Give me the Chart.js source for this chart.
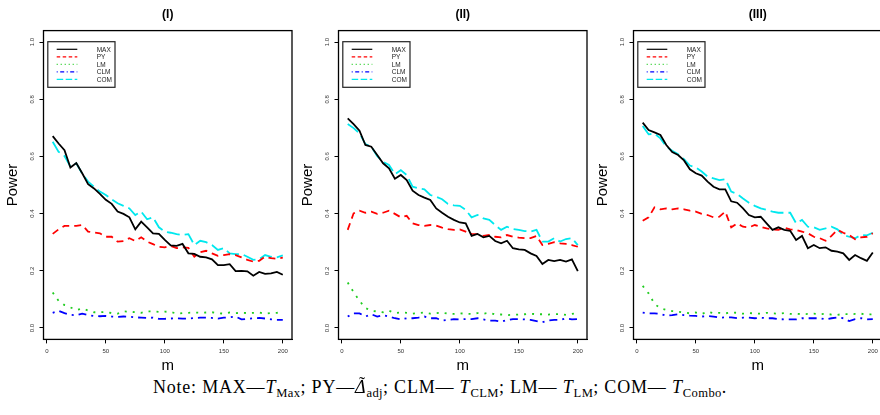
<!DOCTYPE html>
<html>
<head>
<meta charset="utf-8">
<script src="https://cdn.jsdelivr.net/npm/chart.js@4.4.0/dist/chart.umd.min.js"></script>
<style>
  html, body { margin: 0; padding: 0; background: #fff; }
  body { position: relative; width: 880px; height: 415px; overflow: hidden; }
  .panel { position: absolute; top: 0; width: 294px; height: 375px; }
  .note {
    position: absolute; left: 0; top: 377px; width: 880px; text-align: center; white-space: nowrap;
    font-family: "Liberation Serif", "DejaVu Serif", serif; font-size: 18px; letter-spacing: 0.8px; color: #000;
  }
  .note sub { font-size: 70%; vertical-align: -0.3em; line-height: 0; letter-spacing: 0.4px; }
  .dt { position: relative; display: inline-block; }
  .dt .tl { position: absolute; left: 0.22em; top: -0.18em; font-style: normal; }
</style>
</head>
<body>
<div class="panel" style="left:0px"><canvas id="c1" width="294" height="375"></canvas></div>
<div class="panel" style="left:295px"><canvas id="c2" width="294" height="375"></canvas></div>
<div class="panel" style="left:590px"><canvas id="c3" width="294" height="375"></canvas></div>
<div class="note">Note: MAX—<i>T</i><sub>Max</sub>; PY—<span class="dt"><i>Δ</i><span class="tl">˜</span></span><sub>adj</sub>; CLM— <i>T</i><sub>CLM</sub>; LM— <i>T</i><sub>LM</sub>; COM— <i>T</i><sub>Combo</sub>.</div>

<script>
// m values (x axis)
const M = [5, 10, 15, 20, 25, 30, 35, 40, 45, 50, 55, 60, 65, 70, 75, 80, 85, 90, 95, 100,
           105, 110, 115, 120, 125, 130, 135, 140, 145, 150, 155, 160, 165, 170, 175, 180, 185, 190, 195, 200]

const X_TICKS = [0, 50, 100, 150, 200]
const Y_TICKS = [0, 0.2, 0.4, 0.6, 0.8, 1.0]
const Y_LABELS = ['0.0', '0.2', '0.4', '0.6', '0.8', '1.0']

// ---- panel (I) ----
const MAX_1 = [0.671, 0.645, 0.622, 0.561, 0.577, 0.541, 0.503, 0.488, 0.469, 0.448, 0.434, 0.407, 0.399, 0.387, 0.345, 0.372, 0.352, 0.331, 0.329, 0.308,
               0.289, 0.287, 0.294, 0.261, 0.259, 0.249, 0.247, 0.240, 0.220, 0.220, 0.223, 0.199, 0.200, 0.198, 0.183, 0.196, 0.189, 0.191, 0.196, 0.186]
const PY_1  = [0.329, 0.345, 0.357, 0.357, 0.357, 0.360, 0.337, 0.334, 0.331, 0.319, 0.319, 0.302, 0.304, 0.314, 0.304, 0.317, 0.302, 0.293, 0.284, 0.282,
               0.287, 0.279, 0.282, 0.280, 0.249, 0.265, 0.270, 0.261, 0.252, 0.255, 0.258, 0.255, 0.247, 0.238, 0.232, 0.235, 0.249, 0.244, 0.242, 0.246]
const LM_1  = [0.124, 0.095, 0.080, 0.072, 0.063, 0.068, 0.061, 0.055, 0.055, 0.056, 0.052, 0.050, 0.058, 0.057, 0.055, 0.053, 0.058, 0.058, 0.056, 0.057,
               0.056, 0.050, 0.052, 0.053, 0.054, 0.053, 0.054, 0.055, 0.052, 0.050, 0.054, 0.052, 0.053, 0.052, 0.053, 0.054, 0.050, 0.052, 0.053, 0.054]
const CLM_1 = [0.053, 0.060, 0.052, 0.046, 0.044, 0.050, 0.045, 0.042, 0.041, 0.042, 0.040, 0.039, 0.040, 0.039, 0.037, 0.036, 0.035, 0.036, 0.032, 0.032,
               0.033, 0.034, 0.033, 0.033, 0.035, 0.036, 0.036, 0.035, 0.033, 0.036, 0.037, 0.040, 0.030, 0.032, 0.034, 0.035, 0.033, 0.030, 0.028, 0.028]
const COM_1 = [0.651, 0.616, 0.601, 0.564, 0.576, 0.540, 0.512, 0.494, 0.477, 0.465, 0.450, 0.436, 0.427, 0.418, 0.395, 0.407, 0.380, 0.387, 0.352, 0.337,
               0.333, 0.328, 0.325, 0.328, 0.290, 0.305, 0.300, 0.290, 0.273, 0.279, 0.261, 0.258, 0.259, 0.249, 0.238, 0.240, 0.255, 0.249, 0.247, 0.254]

// ---- panel (II) ----
const MAX_2 = [0.733, 0.713, 0.690, 0.640, 0.634, 0.605, 0.576, 0.558, 0.522, 0.535, 0.517, 0.480, 0.465, 0.456, 0.448, 0.418, 0.403, 0.389, 0.378, 0.369,
               0.366, 0.322, 0.329, 0.317, 0.322, 0.304, 0.296, 0.305, 0.279, 0.275, 0.273, 0.261, 0.252, 0.224, 0.238, 0.234, 0.238, 0.232, 0.240, 0.199]
const PY_2  = [0.343, 0.401, 0.410, 0.403, 0.407, 0.399, 0.403, 0.410, 0.399, 0.387, 0.392, 0.366, 0.360, 0.357, 0.360, 0.358, 0.351, 0.346, 0.343, 0.345,
               0.337, 0.329, 0.328, 0.322, 0.325, 0.319, 0.317, 0.325, 0.319, 0.316, 0.314, 0.314, 0.322, 0.290, 0.294, 0.300, 0.296, 0.294, 0.290, 0.284]
const LM_2  = [0.159, 0.125, 0.095, 0.070, 0.060, 0.058, 0.055, 0.060, 0.052, 0.054, 0.053, 0.050, 0.052, 0.054, 0.050, 0.052, 0.054, 0.050, 0.049, 0.051,
               0.050, 0.049, 0.052, 0.050, 0.053, 0.047, 0.047, 0.045, 0.046, 0.047, 0.048, 0.050, 0.048, 0.048, 0.047, 0.048, 0.049, 0.046, 0.049, 0.052]
const CLM_2 = [0.040, 0.051, 0.051, 0.040, 0.048, 0.040, 0.045, 0.040, 0.034, 0.030, 0.034, 0.034, 0.036, 0.040, 0.034, 0.034, 0.026, 0.028, 0.031, 0.030,
               0.031, 0.031, 0.034, 0.030, 0.026, 0.026, 0.022, 0.028, 0.031, 0.031, 0.030, 0.028, 0.024, 0.020, 0.026, 0.028, 0.028, 0.034, 0.030, 0.031]
const COM_2 = [0.713, 0.699, 0.681, 0.643, 0.634, 0.601, 0.581, 0.570, 0.538, 0.552, 0.535, 0.494, 0.488, 0.485, 0.465, 0.459, 0.450, 0.434, 0.429, 0.427,
               0.413, 0.387, 0.395, 0.383, 0.378, 0.360, 0.343, 0.354, 0.346, 0.343, 0.339, 0.337, 0.343, 0.302, 0.302, 0.314, 0.302, 0.311, 0.314, 0.290]

// ---- panel (III) ----
const MAX_3 = [0.718, 0.692, 0.684, 0.675, 0.640, 0.615, 0.605, 0.586, 0.555, 0.541, 0.533, 0.512, 0.494, 0.485, 0.485, 0.443, 0.438, 0.418, 0.395, 0.387,
               0.389, 0.366, 0.343, 0.352, 0.343, 0.340, 0.308, 0.322, 0.279, 0.290, 0.279, 0.282, 0.270, 0.267, 0.261, 0.238, 0.255, 0.244, 0.235, 0.264]
const PY_3  = [0.375, 0.387, 0.422, 0.415, 0.418, 0.415, 0.418, 0.415, 0.410, 0.407, 0.399, 0.395, 0.387, 0.389, 0.407, 0.352, 0.366, 0.354, 0.352, 0.360,
               0.354, 0.348, 0.345, 0.343, 0.351, 0.345, 0.343, 0.337, 0.331, 0.319, 0.314, 0.305, 0.322, 0.343, 0.333, 0.325, 0.310, 0.317, 0.319, 0.331]
const LM_3  = [0.147, 0.121, 0.084, 0.069, 0.063, 0.059, 0.057, 0.054, 0.051, 0.054, 0.049, 0.057, 0.052, 0.053, 0.051, 0.054, 0.053, 0.050, 0.052, 0.051,
               0.050, 0.053, 0.051, 0.050, 0.052, 0.049, 0.050, 0.048, 0.049, 0.050, 0.048, 0.050, 0.047, 0.046, 0.049, 0.048, 0.049, 0.050, 0.047, 0.048]
const CLM_3 = [0.054, 0.051, 0.051, 0.049, 0.043, 0.045, 0.048, 0.045, 0.043, 0.042, 0.040, 0.042, 0.040, 0.036, 0.037, 0.037, 0.034, 0.036, 0.036, 0.034,
               0.036, 0.034, 0.034, 0.031, 0.030, 0.030, 0.030, 0.034, 0.034, 0.034, 0.034, 0.030, 0.034, 0.037, 0.034, 0.024, 0.031, 0.034, 0.030, 0.031]
const COM_3 = [0.706, 0.677, 0.680, 0.663, 0.634, 0.620, 0.608, 0.590, 0.568, 0.562, 0.547, 0.529, 0.523, 0.517, 0.520, 0.477, 0.469, 0.453, 0.438, 0.427,
               0.418, 0.413, 0.407, 0.403, 0.403, 0.403, 0.366, 0.378, 0.354, 0.352, 0.343, 0.348, 0.354, 0.345, 0.325, 0.319, 0.314, 0.325, 0.324, 0.333]

// line styles, R-like lty 1..5
const STYLES = [
  { label: 'MAX', color: '#000000', dash: [] },
  { label: 'PY',  color: '#ff0000', dash: [7, 5] },
  { label: 'LM',  color: '#1fcc1f', dash: [2, 6] },
  { label: 'CLM', color: '#0000ff', dash: [2, 5, 8, 5] },
  { label: 'COM', color: '#00e8ee', dash: [13, 5] }
]

const SANS = '"Liberation Sans", Arial, Helvetica, sans-serif'

// box, rotated y tick labels, panel title and the in-plot legend
const decor = {
  id: 'decor',
  afterDraw(chart, args, opts) {
    const { ctx, chartArea: a } = chart
    const y = chart.scales.y
    ctx.save()

    ctx.strokeStyle = '#000'
    ctx.lineWidth = 1.3
    ctx.setLineDash([])
    ctx.strokeRect(a.left, a.top, a.right - a.left, a.bottom - a.top)

    ctx.fillStyle = '#333'
    ctx.font = '6px ' + SANS
    ctx.textAlign = 'center'
    ctx.textBaseline = 'middle'
    Y_TICKS.forEach((v, i) => {
      ctx.save()
      ctx.translate(a.left - 11.5, y.getPixelForValue(v))
      ctx.rotate(-Math.PI / 2)
      ctx.fillText(Y_LABELS[i], 0, 0)
      ctx.restore()
    })

    ctx.fillStyle = '#000'
    ctx.font = 'bold 12px ' + SANS
    ctx.fillText(opts.title, (a.left + a.right) / 2, 14.5)

    // legend
    const lx = a.left + 4.3, ly = a.top + 11.1
    ctx.fillStyle = '#fff'
    ctx.fillRect(lx, ly, 67.2, 45.6)
    ctx.strokeStyle = '#222'
    ctx.lineWidth = 1.2
    ctx.strokeRect(lx, ly, 67.2, 45.6)
    ctx.font = '6.5px ' + SANS
    ctx.textAlign = 'left'
    STYLES.forEach((s, i) => {
      const ty = a.top + 18.7 + i * 7.5
      ctx.strokeStyle = s.color
      ctx.lineWidth = 1.2
      ctx.setLineDash(s.dash.map(d => d / 2))
      ctx.beginPath()
      ctx.moveTo(a.left + 13.2, ty)
      ctx.lineTo(a.left + 33.8, ty)
      ctx.stroke()
      ctx.fillStyle = '#222'
      ctx.fillText(s.label, a.left + 53.2, ty + 0.5)
    })
    ctx.restore()
  }
}

function makePanel(id, title, series) {
  new Chart(document.getElementById(id), {
    type: 'line',
    data: {
      datasets: series.map((vals, i) => ({
        label: STYLES[i].label,
        data: M.map((m, j) => ({ x: m, y: vals[j] })),
        borderColor: STYLES[i].color,
        borderDash: STYLES[i].dash,
        borderWidth: 1.8,
        pointRadius: 0,
        tension: 0,
        fill: false
      }))
    },
    options: {
      responsive: false,
      animation: false,
      layout: { padding: { left: 0, right: 2, top: 30.6, bottom: 0 } },
      plugins: {
        legend: { display: false },
        tooltip: { enabled: false },
        decor: { title }
      },
      scales: {
        x: {
          type: 'linear', min: -2.8, max: 207.8,
          afterBuildTicks: s => { s.ticks = X_TICKS.map(v => ({ value: v })) },
          afterFit: s => { s.height = 35.6 },
          grid: { drawOnChartArea: false, drawTicks: true, tickLength: 4, color: '#000' },
          border: { display: true, color: '#000', width: 1 },
          ticks: { color: '#333', font: { size: 6, family: SANS }, padding: 4, maxRotation: 0 },
          title: { display: true, text: 'm', color: '#000', font: { size: 15, family: SANS }, padding: 0 }
        },
        y: {
          type: 'linear', min: -0.04, max: 1.04,
          afterBuildTicks: s => { s.ticks = Y_TICKS.map(v => ({ value: v })) },
          afterFit: s => { s.width = 43.5 },
          grid: { drawOnChartArea: false, drawTicks: true, tickLength: 4, color: '#000' },
          border: { display: true, color: '#000', width: 1 },
          ticks: { display: false },
          title: { display: true, text: 'Power', color: '#000', font: { size: 15, family: SANS }, padding: { top: 4, bottom: 0 } }
        }
      }
    },
    plugins: [decor]
  })
}

makePanel('c1', '(I)',   [MAX_1, PY_1, LM_1, CLM_1, COM_1])
makePanel('c2', '(II)',  [MAX_2, PY_2, LM_2, CLM_2, COM_2])
makePanel('c3', '(III)', [MAX_3, PY_3, LM_3, CLM_3, COM_3])
</script>
</body>
</html>
